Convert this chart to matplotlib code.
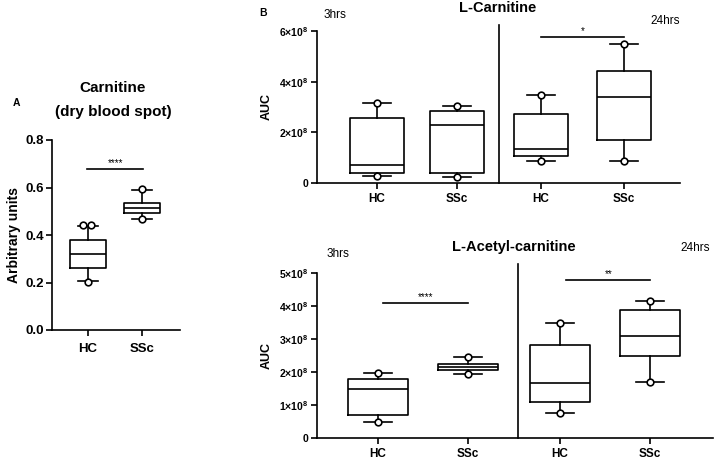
import matplotlib

matplotlib.use("Agg")
import matplotlib.pyplot as plt
from matplotlib.ticker import FuncFormatter

plt.rcParams["font.family"] = ["Liberation Sans", "DejaVu Sans"]
plt.rcParams["mathtext.fontset"] = "custom"
plt.rcParams["mathtext.rm"] = "Liberation Sans"
plt.rcParams["mathtext.bf"] = "Liberation Sans:bold"

W, H = 715, 459

# ---- data ----
groups = ["HC", "SSc"]

# Panel A: carnitine, dry blood spot (arbitrary units)
a_q1 = [0.26, 0.494]
a_med = [0.32, 0.514]
a_q3 = [0.38, 0.533]
a_lo = [0.205, 0.468]
a_hi = [0.44, 0.59]
a_points = [[0.201, 0.442, 0.442], [0.466, 0.592]]
a_sig_y = 0.677
a_sig = "****"

# Panel B top: L-Carnitine AUC (x1e8), order 3hrs HC, 3hrs SSc, 24hrs HC, 24hrs SSc
lc_q1 = [0.41, 0.38, 1.08, 1.71]
lc_med = [0.71, 2.28, 1.34, 3.41]
lc_q3 = [2.56, 2.86, 2.71, 4.43]
lc_lo = [0.29, 0.25, 0.87, 0.87]
lc_hi = [3.15, 3.04, 3.47, 5.47]
lc_sig_y = 5.76
lc_sig = "*"

# Panel B bottom: L-Acetyl-carnitine AUC (x1e8)
lac_q1 = [0.69, 2.07, 1.10, 2.49]
lac_med = [1.48, 2.16, 1.68, 3.08]
lac_q3 = [1.78, 2.24, 2.81, 3.87]
lac_lo = [0.49, 1.93, 0.77, 1.70]
lac_hi = [1.97, 2.45, 3.49, 4.16]
lac_sig_y = [4.08, 4.77]
lac_sig = ["****", "**"]

SCALE = 1e8
LW = 1.2


def px_axes(fig, x0, x1, ytop, ybot):
    return fig.add_axes([x0 / W, 1 - ybot / H, (x1 - x0) / W, (ybot - ytop) / H])


def style_axis(ax, fs):
    for s in ("top", "right"):
        ax.spines[s].set_visible(False)
    for s in ("left", "bottom"):
        ax.spines[s].set_linewidth(LW)
    ax.tick_params(direction="out", length=4, width=LW, labelsize=fs, pad=2)
    for lab in ax.get_xticklabels() + ax.get_yticklabels():
        lab.set_fontweight("bold")


def draw_boxes(ax, pos, q1, med, q3, lo, hi, width, capw, scale=1.0):
    stats = []
    for i in range(len(pos)):
        stats.append(dict(q1=q1[i] * scale, med=med[i] * scale, q3=q3[i] * scale,
                          whislo=lo[i] * scale, whishi=hi[i] * scale, fliers=[]))
    line = dict(color="black", linewidth=LW)
    ax.bxp(stats, positions=pos, widths=width, capwidths=capw, showfliers=False,
           boxprops=line, medianprops=line, whiskerprops=line, capprops=line,
           manage_ticks=False)


def draw_points(ax, xs, ys):
    ax.plot(xs, ys, "o", ms=4.8, mfc="white", mec="black", mew=LW,
            linestyle="none", zorder=5, clip_on=False)


def draw_sig(ax, x0, x1, y, label, dy, fs=7):
    ax.plot([x0, x1], [y, y], color="black", lw=LW, clip_on=False)
    ax.text((x0 + x1) / 2, y + dy, label, ha="center", va="bottom", fontsize=fs)


def sci(v, _):
    if v == 0:
        return "0"
    return r"$\mathbf{%d{\times}10^{8}}$" % round(v / SCALE)


fig = plt.figure(figsize=(W / 100, H / 100), dpi=100)

# ---------- Panel A ----------
axA = px_axes(fig, 52, 180, 140, 330)
posA = [0, 1]
draw_boxes(axA, posA, a_q1, a_med, a_q3, a_lo, a_hi, 0.667, 0.36)
draw_points(axA, [posA[0], posA[0] - 0.087, posA[0] + 0.05, posA[1], posA[1]],
            [a_points[0][0], a_points[0][1], a_points[0][2], a_points[1][0], a_points[1][1]])
draw_sig(axA, posA[0] - 0.02, posA[1] + 0.02, a_sig_y, a_sig, 0.004, fs=7)
axA.set_xlim(-0.667, 1.70)
axA.set_ylim(0, 0.8)
axA.set_yticks([0.0, 0.2, 0.4, 0.6, 0.8])
axA.yaxis.set_major_formatter(FuncFormatter(lambda v, _: f"{v:.1f}"))
axA.set_xticks(posA)
axA.set_xticklabels(groups)
style_axis(axA, 9.5)
axA.tick_params(axis="x", pad=5)
axA.set_ylabel("Arbitrary units", fontsize=10, fontweight="bold", labelpad=3)
fig.text(113 / W, 1 - 88 / H, "Carnitine", ha="center", va="center",
         fontsize=11, fontweight="bold")
fig.text(113 / W, 1 - 112 / H, "(dry blood spot)", ha="center", va="center",
         fontsize=11, fontweight="bold")
fig.text(13 / W, 1 - 103 / H, "A", ha="left", va="center", fontsize=7.5, fontweight="bold")

# ---------- Panel B top: L-Carnitine ----------
axT = px_axes(fig, 317, 680, 31, 183)
posT = [0, 1, 2.05, 3.0875]
sepT = 1.525
draw_boxes(axT, posT, lc_q1, lc_med, lc_q3, lc_lo, lc_hi, 0.675, 0.35, SCALE)
draw_points(axT, posT + posT, [v * SCALE for v in lc_lo + lc_hi])
axT.plot([sepT, sepT], [0, 6.24 * SCALE], color="black", lw=LW, clip_on=False)
draw_sig(axT, posT[2], posT[3], lc_sig_y * SCALE, lc_sig, 0.04 * SCALE)
axT.set_xlim(-0.75, 3.7875)
axT.set_ylim(0, 6 * SCALE)
axT.set_yticks([0, 2 * SCALE, 4 * SCALE, 6 * SCALE])
axT.yaxis.set_major_formatter(FuncFormatter(sci))
axT.set_xticks(posT)
axT.set_xticklabels(groups + groups)
style_axis(axT, 7.5)
axT.tick_params(axis="x", labelsize=8.5, pad=3)
axT.set_ylabel("AUC", fontsize=9, fontweight="bold", labelpad=5)
fig.text(498 / W, 1 - 8 / H, "L-Carnitine", ha="center", va="center",
         fontsize=10.5, fontweight="bold")
fig.text(335 / W, 1 - 15 / H, "3hrs", ha="center", va="center", fontsize=8.5)
fig.text(665 / W, 1 - 21 / H, "24hrs", ha="center", va="center", fontsize=8.5)
fig.text(263 / W, 1 - 13 / H, "B", ha="center", va="center", fontsize=7.5, fontweight="bold")

# ---------- Panel B bottom: L-Acetyl-carnitine ----------
axB = px_axes(fig, 317, 713, 272.7, 438.3)
posB = [0, 1, 2.022, 3.022]
sepB = 1.552
draw_boxes(axB, posB, lac_q1, lac_med, lac_q3, lac_lo, lac_hi, 0.667, 0.31, SCALE)
draw_points(axB, posB + posB, [v * SCALE for v in lac_lo + lac_hi])
axB.plot([sepB, sepB], [0, 5.26 * SCALE], color="black", lw=LW, clip_on=False)
draw_sig(axB, posB[0] + 0.05, posB[1], lac_sig_y[0] * SCALE, lac_sig[0], 0.03 * SCALE)
draw_sig(axB, posB[2] + 0.07, posB[3], lac_sig_y[1] * SCALE, lac_sig[1], 0.03 * SCALE)
axB.set_xlim(-0.678, 3.72)
axB.set_ylim(0, 5 * SCALE)
axB.set_yticks([i * SCALE for i in range(6)])
axB.yaxis.set_major_formatter(FuncFormatter(sci))
axB.set_xticks(posB)
axB.set_xticklabels(groups + groups)
style_axis(axB, 7.5)
axB.tick_params(axis="x", labelsize=8.5, pad=3)
axB.set_ylabel("AUC", fontsize=9, fontweight="bold", labelpad=5)
fig.text(514 / W, 1 - 247 / H, "L-Acetyl-carnitine", ha="center", va="center",
         fontsize=10.5, fontweight="bold")
fig.text(338 / W, 1 - 254 / H, "3hrs", ha="center", va="center", fontsize=8.5)
fig.text(695 / W, 1 - 248 / H, "24hrs", ha="center", va="center", fontsize=8.5)

fig.savefig("out.png", dpi=100)
